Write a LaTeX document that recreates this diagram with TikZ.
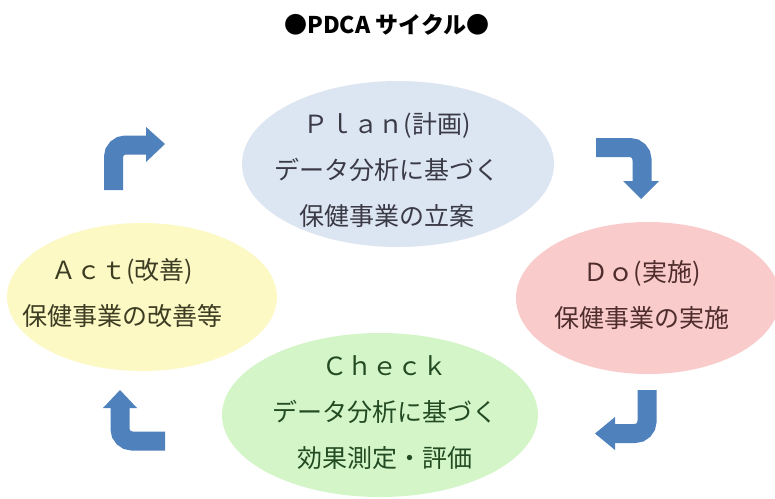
\documentclass[tikz,border=0pt]{standalone}
\usepackage{fontspec}
\usetikzlibrary{shapes.geometric}
\newfontfamily\jp{Noto Sans CJK JP}
\definecolor{arrowblue}{RGB}{79,129,189}
\definecolor{planfill}{RGB}{220,230,242}
\definecolor{dofill}{RGB}{249,203,203}
\definecolor{actfill}{RGB}{252,249,196}
\definecolor{checkfill}{RGB}{212,245,200}
\definecolor{plantext}{RGB}{58,58,70}
\definecolor{dotext}{RGB}{80,45,45}
\definecolor{acttext}{RGB}{60,60,35}
\definecolor{checktext}{RGB}{35,75,35}
\tikzset{
  phase/.style={ellipse, inner sep=0pt},
  phasetext/.style={align=center, inner sep=0pt, font=\jp\fontsize{25}{46}\selectfont},
  bentarrow/.style={draw=arrowblue, line width=19pt, rounded corners=12pt},
  arrowhead/.style={fill=arrowblue}
}
\begin{document}
\begin{tikzpicture}[x=1pt,y=-1pt]
\useasboundingbox (0,0) rectangle (775,498);
\fill[white] (0,0) rectangle (775,498);

% title
\node[font=\jp\bfseries\fontsize{23}{26}\selectfont] (title) at (387,25) {●PDCA サイクル●};

% ellipses
\node[phase, fill=planfill, minimum width=312pt, minimum height=166pt] (planE) at (398,164) {};
\node[phase, fill=dofill, minimum width=264pt, minimum height=152pt] (doE) at (648,298) {};
\node[phase, fill=actfill, minimum width=270pt, minimum height=148pt] (actE) at (142,297) {};
\node[phase, fill=checkfill, minimum width=316pt, minimum height=164pt] (checkE) at (380,415) {};

% texts
\node[phasetext, text=plantext] (planT) at (387,170) {Ｐｌａｎ(計画)\\データ分析に基づく\\保健事業の立案};
\node[phasetext, text=dotext] (doT) at (642,295) {Ｄｏ(実施)\\保健事業の実施};
\node[phasetext, text=acttext] (actT) at (122,293) {Ａｃｔ(改善)\\保健事業の改善等};
\node[phasetext, text=checktext] (checkT) at (385,413) {Ｃｈｅｃｋ\\データ分析に基づく\\効果測定・評価};

% arrow top-left
\coordinate (a1s) at (113.5,190);
\coordinate (a1c) at (113.5,145);
\coordinate (a1e) at (147,145);
\draw[bentarrow] (a1s) -- (a1c) -- (a1e);
\fill[arrowhead] (146,127) -- (165,144) -- (146,162) -- cycle;

% arrow top-right
\coordinate (a2s) at (596,147.5);
\coordinate (a2c) at (642,147.5);
\coordinate (a2e) at (642,182);
\draw[bentarrow] (a2s) -- (a2c) -- (a2e);
\fill[arrowhead] (623,181) -- (659,181) -- (641,199) -- cycle;

% arrow bottom-right
\coordinate (a3s) at (647,390);
\coordinate (a3c) at (647,433.5);
\coordinate (a3e) at (614,433.5);
\draw[bentarrow] (a3s) -- (a3c) -- (a3e);
\fill[arrowhead] (615,417) -- (615,450) -- (595,433.5) -- cycle;

% arrow bottom-left
\coordinate (a4s) at (165,441);
\coordinate (a4c) at (120,441);
\coordinate (a4e) at (120,407);
\draw[bentarrow] (a4s) -- (a4c) -- (a4e);
\fill[arrowhead] (103,408) -- (137,408) -- (120,390) -- cycle;
\end{tikzpicture}
\end{document}
